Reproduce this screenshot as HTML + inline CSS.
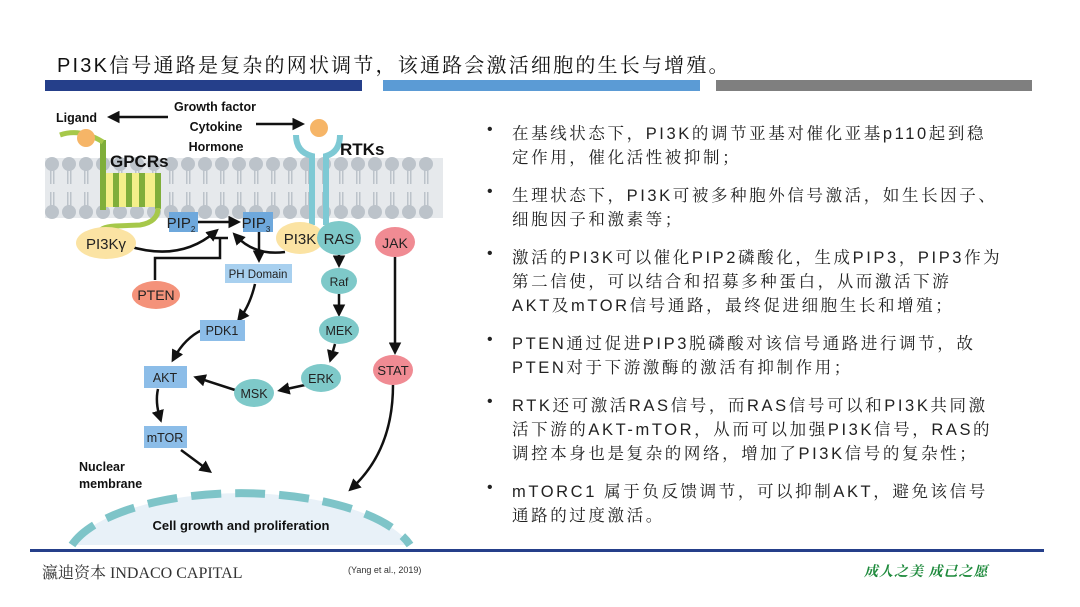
<!DOCTYPE html>
<html><head><meta charset="utf-8"><style>
body{margin:0;width:1080px;height:607px;background:#fff;position:relative;overflow:hidden;font-family:"Liberation Sans","Noto Sans CJK SC",sans-serif;}
.t{position:absolute;white-space:nowrap;}
.bl{position:absolute;left:487px;font-size:16px;color:#222;}
.ln{position:absolute;left:512px;font-size:16.5px;color:#222;white-space:nowrap;letter-spacing:2.6px;font-family:"Liberation Sans","Noto Serif CJK SC",serif;}
</style></head><body>
<div class="t" style="left:57px;top:49px;font-size:20px;color:#111;letter-spacing:2.2px;font-family:'Liberation Sans','Noto Serif CJK SC',serif;">PI3K信号通路是复杂的网状调节，该通路会激活细胞的生长与增殖。</div>
<div style="position:absolute;left:45px;top:80px;width:317px;height:11px;background:#253f8a"></div>
<div style="position:absolute;left:383px;top:80px;width:317px;height:11px;background:#5b9bd5"></div>
<div style="position:absolute;left:716px;top:80px;width:316px;height:11px;background:#7f7f7f"></div>

<svg style="position:absolute;left:0;top:0" width="480" height="550" viewBox="0 0 480 550">
<defs>
<marker id="a" markerWidth="5" markerHeight="5" refX="3" refY="2.5" orient="auto" markerUnits="strokeWidth"><path d="M0,0 L5,2.5 L0,5 z" fill="#111"/></marker>
</defs>
<rect x="45" y="158" width="398" height="60" fill="#e6e9ec"/>
<g fill="#bcc3ca">
<g id="h">
<circle cx="52" cy="164" r="7"/><circle cx="52" cy="212" r="7"/>
<rect x="50" y="170" width="1.5" height="14"/><rect x="53" y="170" width="1.5" height="14"/>
<rect x="50" y="192" width="1.5" height="14"/><rect x="53" y="192" width="1.5" height="14"/>
</g>
<use href="#h" x="17"/><use href="#h" x="34"/><use href="#h" x="51"/><use href="#h" x="68"/><use href="#h" x="85"/><use href="#h" x="102"/><use href="#h" x="119"/><use href="#h" x="136"/><use href="#h" x="153"/><use href="#h" x="170"/><use href="#h" x="187"/><use href="#h" x="204"/><use href="#h" x="221"/><use href="#h" x="238"/><use href="#h" x="255"/><use href="#h" x="272"/><use href="#h" x="289"/><use href="#h" x="306"/><use href="#h" x="323"/><use href="#h" x="340"/><use href="#h" x="357"/><use href="#h" x="374"/>
</g>
<rect x="103" y="173" width="58" height="34" fill="#f4ef8a"/>
<g fill="#7fae3a"><rect x="100" y="140" width="6" height="70"/><rect x="113" y="173" width="6" height="34"/><rect x="126" y="173" width="6" height="34"/><rect x="139" y="173" width="6" height="34"/><rect x="155" y="173" width="6" height="36"/></g>
<path d="M60,135 Q80,128 103,142" stroke="#a6c84a" stroke-width="5" fill="none"/>
<path d="M158,208 Q158,222 140,225 L115,226 Q100,227 100,232" stroke="#a6c84a" stroke-width="5" fill="none"/>
<circle cx="86" cy="138" r="9" fill="#f6b567"/>
<text x="110" y="167" font-size="17" font-weight="bold" fill="#111">GPCRs</text>
<path d="M296,135 Q296,152 312,156 L312,225 M340,135 Q340,152 326,156 L326,225" stroke="#7ec9d4" stroke-width="6" fill="none"/>
<circle cx="319" cy="128" r="9" fill="#f6b567"/>
<text x="340" y="155" font-size="17" font-weight="bold" fill="#111">RTKs</text>
<g font-size="12.5" font-weight="bold" fill="#111" text-anchor="middle">
<text x="215" y="111">Growth factor</text><text x="216" y="131">Cytokine</text><text x="216" y="151">Hormone</text>
</g>
<text x="56" y="122" font-size="12.5" font-weight="bold" fill="#111">Ligand</text>
<g stroke="#111" stroke-width="2.5" fill="none">
<line x1="168" y1="117" x2="112" y2="117" marker-end="url(#a)"/>
<line x1="256" y1="124" x2="300" y2="124" marker-end="url(#a)"/>
<line x1="198" y1="222" x2="236" y2="222" marker-end="url(#a)"/>
<path d="M128,246 Q180,262 215,232" marker-end="url(#a)"/>
<path d="M285,252 Q255,256 236,236" marker-end="url(#a)"/>
<path d="M155,280 L155,258 L220,258 L220,238"/>
<line x1="212" y1="238" x2="228" y2="238"/>
<line x1="259" y1="232" x2="259" y2="258" marker-end="url(#a)"/>
<path d="M255,284 Q250,305 240,318" marker-end="url(#a)"/>
<path d="M202,330 Q185,338 174,358" marker-end="url(#a)"/>
<line x1="339" y1="254" x2="339" y2="263" marker-end="url(#a)"/>
<line x1="339" y1="294" x2="339" y2="312" marker-end="url(#a)"/>
<line x1="335" y1="344" x2="331" y2="358" marker-end="url(#a)"/>
<line x1="305" y1="385" x2="282" y2="390" marker-end="url(#a)"/>
<line x1="235" y1="390" x2="198" y2="378" marker-end="url(#a)"/>
<line x1="395" y1="257" x2="395" y2="350" marker-end="url(#a)"/>
<path d="M158,389 Q155,402 160,418" marker-end="url(#a)"/>
<line x1="181" y1="450" x2="208" y2="470" marker-end="url(#a)"/>
<path d="M393,385 Q393,450 352,488" marker-end="url(#a)"/>
</g>
<path d="M72,545 A175,70 0 0 1 410,545 Z" fill="#e8f1f8"/>
<path d="M72,545 A175,70 0 0 1 410,545" stroke="#7ec4c8" stroke-width="8" fill="none" stroke-dasharray="30,14"/>
<text x="241" y="530" font-size="13" font-weight="bold" fill="#111" text-anchor="middle">Cell growth and proliferation</text>
<text x="79" y="471" font-size="12.5" font-weight="bold" fill="#111">Nuclear</text>
<text x="79" y="488" font-size="12.5" font-weight="bold" fill="#111">membrane</text>
<g font-size="13" fill="#222" text-anchor="middle">
<rect x="169" y="212" width="29" height="20" fill="#6ea8dc"/><text x="181" y="228" font-size="15">PIP<tspan font-size="8" dy="4">2</tspan></text>
<rect x="243" y="212" width="30" height="20" fill="#6ea8dc"/><text x="256" y="228" font-size="15">PIP<tspan font-size="8" dy="4">3</tspan></text>
<ellipse cx="106" cy="243" rx="30" ry="16" fill="#fbe3a3"/><text x="106" y="249" font-size="15">PI3Kγ</text>
<ellipse cx="300" cy="238" rx="24" ry="16" fill="#fbe3a3"/><text x="300" y="244" font-size="15">PI3K</text>
<ellipse cx="339" cy="238" rx="22" ry="17" fill="#7ec9c9"/><text x="339" y="244" font-size="15">RAS</text>
<ellipse cx="395" cy="242" rx="20" ry="15" fill="#f08b93"/><text x="395" y="248" font-size="14">JAK</text>
<rect x="225" y="264" width="67" height="19" fill="#a8d0ef"/><text x="258" y="278" font-size="11.5">PH Domain</text>
<ellipse cx="339" cy="281" rx="18" ry="13" fill="#7ec9c9"/><text x="339" y="286" font-size="12">Raf</text>
<ellipse cx="156" cy="295" rx="24" ry="14" fill="#f4927a"/><text x="156" y="300" font-size="14">PTEN</text>
<rect x="200" y="320" width="45" height="21" fill="#8cbde8"/><text x="222" y="335" font-size="12.5">PDK1</text>
<ellipse cx="339" cy="330" rx="20" ry="14" fill="#7ec9c9"/><text x="339" y="335" font-size="12.5">MEK</text>
<ellipse cx="321" cy="378" rx="20" ry="14" fill="#7ec9c9"/><text x="321" y="383" font-size="12.5">ERK</text>
<ellipse cx="393" cy="370" rx="20" ry="15" fill="#f08b93"/><text x="393" y="375" font-size="13">STAT</text>
<rect x="144" y="366" width="43" height="22" fill="#8cbde8"/><text x="165" y="382" font-size="12.5">AKT</text>
<ellipse cx="254" cy="393" rx="20" ry="14" fill="#7ec9c9"/><text x="254" y="398" font-size="12.5">MSK</text>
<rect x="144" y="426" width="43" height="22" fill="#8cbde8"/><text x="165" y="442" font-size="12.5">mTOR</text>
</g>
</svg>

<div class="bl" style="top:121px">•</div>
<div class="ln" style="top:120px">在基线状态下，PI3K的调节亚基对催化亚基p110起到稳</div>
<div class="ln" style="top:144px">定作用，催化活性被抑制；</div>
<div class="bl" style="top:183px">•</div>
<div class="ln" style="top:182px">生理状态下，PI3K可被多种胞外信号激活，如生长因子、</div>
<div class="ln" style="top:206px">细胞因子和激素等；</div>
<div class="bl" style="top:245px">•</div>
<div class="ln" style="top:244px">激活的PI3K可以催化PIP2磷酸化，生成PIP3，PIP3作为</div>
<div class="ln" style="top:268px">第二信使，可以结合和招募多种蛋白，从而激活下游</div>
<div class="ln" style="top:292px">AKT及mTOR信号通路，最终促进细胞生长和增殖；</div>
<div class="bl" style="top:331px">•</div>
<div class="ln" style="top:330px">PTEN通过促进PIP3脱磷酸对该信号通路进行调节，故</div>
<div class="ln" style="top:354px">PTEN对于下游激酶的激活有抑制作用；</div>
<div class="bl" style="top:393px">•</div>
<div class="ln" style="top:392px">RTK还可激活RAS信号，而RAS信号可以和PI3K共同激</div>
<div class="ln" style="top:416px">活下游的AKT-mTOR，从而可以加强PI3K信号，RAS的</div>
<div class="ln" style="top:440px">调控本身也是复杂的网络，增加了PI3K信号的复杂性；</div>
<div class="bl" style="top:479px">•</div>
<div class="ln" style="top:478px">mTORC1 属于负反馈调节，可以抑制AKT，避免该信号</div>
<div class="ln" style="top:502px">通路的过度激活。</div>

<div style="position:absolute;left:30px;top:549px;width:1014px;height:3px;background:#253f8a"></div>
<div class="t" style="left:42px;top:560px;font-size:16px;color:#333;font-family:'Liberation Serif','Noto Serif CJK SC',serif;">瀛迪资本 INDACO CAPITAL</div>
<div class="t" style="left:348px;top:565px;font-size:9px;color:#333;">(Yang et al., 2019)</div>
<div class="t" style="left:864px;top:561px;font-size:14px;color:#1e8a3c;font-weight:bold;font-style:italic;letter-spacing:1px;font-family:'Liberation Serif','Noto Serif CJK SC',serif;">成人之美 成己之愿</div>
</body></html>
